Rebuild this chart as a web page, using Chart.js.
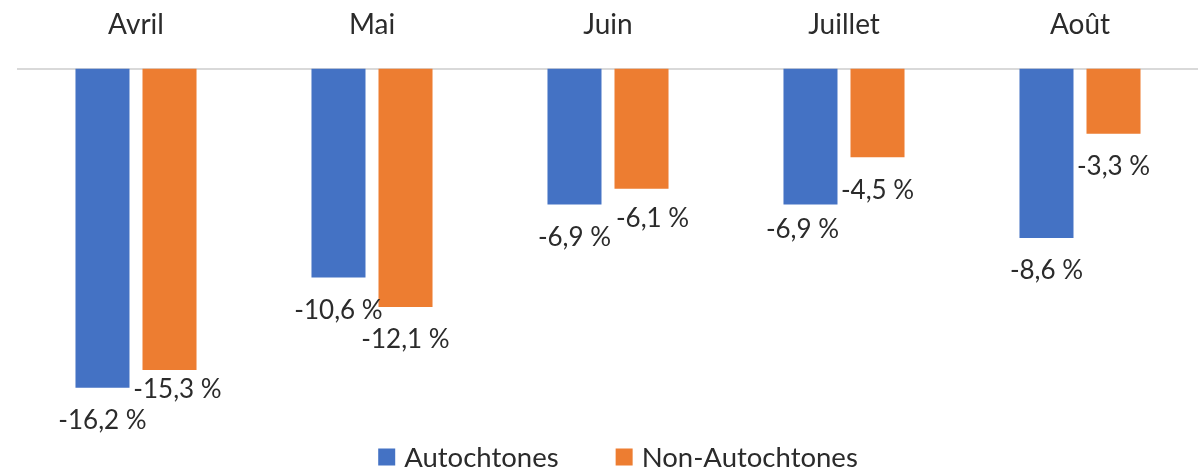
<!DOCTYPE html>
<html lang="fr">
<head>
<meta charset="utf-8">
<script src="https://cdn.jsdelivr.net/npm/chart.js@4/dist/chart.umd.min.js"></script>
<style>
  html, body { margin: 0; padding: 0; background: #fff; }
  canvas { display: block; }
</style>
</head>
<body>
<canvas id="chart" width="1198" height="469"></canvas>
<script>
// monthly change, in %
const months = ['Avril', 'Mai', 'Juin', 'Juillet', 'Août'];
const autochtones = [-16.2, -10.6, -6.9, -6.9, -8.6];
const nonAutochtones = [-15.3, -12.1, -6.1, -4.5, -3.3];
const seriesNames = ['Autochtones', 'Non-Autochtones'];
const seriesColors = ['#4472C4', '#ED7D31'];

const FONT = 'Lato, "Open Sans", sans-serif';
const TEXT = '#2B2B2B';

const fmt = v => v.toFixed(1).replace('.', ',') + ' %';

// a few labels are pushed aside so neighbours don't collide: [dx, dy]
const labelNudge = { '1:0': [8, -13], '1:2': [11, -3], '0:3': [-8, -8] };

// value labels under the end of each bar
const barLabels = {
  id: 'barLabels',
  afterDatasetsDraw(chart) {
    const ctx = chart.ctx;
    ctx.save();
    ctx.font = '26px ' + FONT;
    ctx.fillStyle = TEXT;
    ctx.textAlign = 'center';
    ctx.textBaseline = 'middle';
    chart.data.datasets.forEach((ds, i) => {
      chart.getDatasetMeta(i).data.forEach((bar, j) => {
        const [dx, dy] = labelNudge[i + ':' + j] || [0, 0];
        ctx.fillText(fmt(ds.data[j]), bar.x + dx, bar.y + 33 + dy);
      });
    });
    ctx.restore();
  }
};

// legend drawn by hand so the gap between entries can be wide
const bottomLegend = {
  id: 'bottomLegend',
  afterDraw(chart) {
    const ctx = chart.ctx;
    const box = 17, gap = 9, spacing = 57;
    ctx.save();
    ctx.font = '27.5px ' + FONT;
    const widths = seriesNames.map(n => ctx.measureText(n).width);
    const total = widths.reduce((a, w) => a + box + gap + w, 0) + spacing;
    let x = 618 - total / 2;
    const y = 457;
    ctx.textBaseline = 'middle';
    ctx.textAlign = 'left';
    seriesNames.forEach((name, i) => {
      ctx.fillStyle = seriesColors[i];
      ctx.fillRect(x, y - box / 2, box, box);
      ctx.fillStyle = TEXT;
      ctx.fillText(name, x + box + gap, y + 1);
      x += box + gap + widths[i] + spacing;
    });
    ctx.restore();
  }
};

new Chart(document.getElementById('chart'), {
  type: 'bar',
  data: {
    labels: months,
    datasets: [
      { label: seriesNames[0], data: autochtones, backgroundColor: seriesColors[0] },
      { label: seriesNames[1], data: nonAutochtones, backgroundColor: seriesColors[1] }
    ]
  },
  options: {
    responsive: false,
    animation: false,
    devicePixelRatio: 1,
    categoryPercentage: 0.568,
    barPercentage: 0.806,
    layout: { padding: { top: -19, left: 18, right: 0, bottom: 26 } },
    scales: {
      x: {
        position: 'top',
        grid: { display: true, color: 'transparent', drawTicks: false },
        border: { display: true, color: '#D9D9D9', width: 2 },
        ticks: { color: TEXT, font: { family: FONT, size: 28 }, padding: 27 }
      },
      y: {
        display: false,
        min: -19,
        max: 0
      }
    },
    plugins: {
      legend: { display: false },
      tooltip: { enabled: false }
    }
  },
  plugins: [barLabels, bottomLegend]
});
</script>
</body>
</html>
